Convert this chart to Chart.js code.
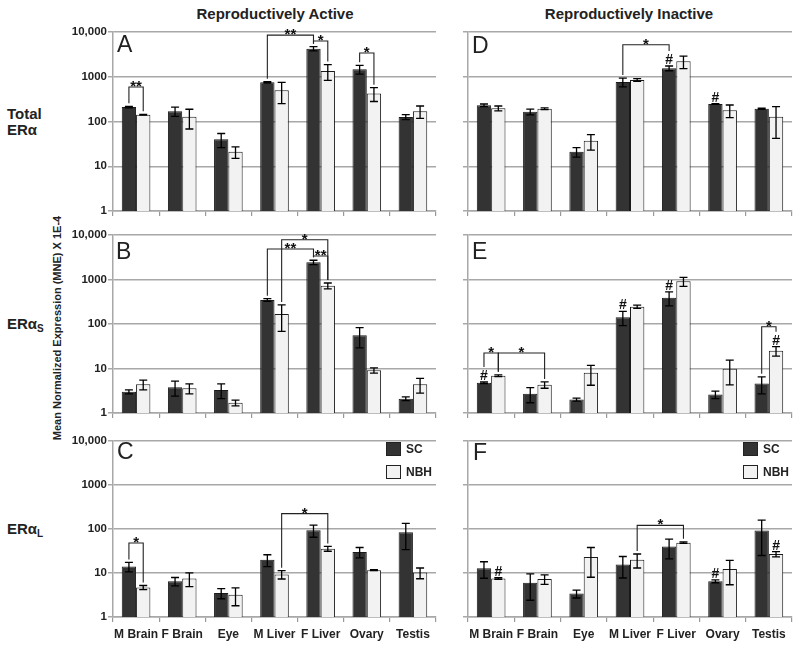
<!DOCTYPE html>
<html>
<head>
<meta charset="utf-8">
<script src="https://cdn.jsdelivr.net/npm/chart.js@4.4.0/dist/chart.umd.min.js"></script>
<style>
  body { margin: 0; background: #fff; }
  #wrap { position: relative; width: 800px; height: 647px; font-family: 'Liberation Sans', Arial, sans-serif; color: #222; }
  canvas { position: absolute; }
  .t { position: absolute; font-weight: bold; white-space: nowrap; }
  .col { font-size: 15px; line-height: 15px; transform: translateX(-50%); top: 6px; }
  .row { font-size: 15px; line-height: 16px; left: 7px; }
  .row sub { font-size: 10px; line-height: 0; vertical-align: -3px; }
  .letter { position: absolute; font-size: 23px; line-height: 23px; }
  .sw { position: absolute; width: 13px; height: 12px; border: 1px solid #222; }
  .lg { position: absolute; font-size: 12px; font-weight: bold; line-height: 12px; }
</style>
</head>
<body>
<div id="wrap">
  <div class="t col" style="left:275px">Reproductively Active</div>
  <div class="t col" style="left:629px">Reproductively Inactive</div>

  <div class="t row" style="top:106px">Total<br>ERα</div>
  <div class="t row" style="top:316px">ERα<sub>S</sub></div>
  <div class="t row" style="top:521px">ERα<sub>L</sub></div>

  <div class="t" style="left:57px;top:328px;font-size:11px;transform:translate(-50%,-50%) rotate(-90deg)">Mean Normalized Expression (MNE) X 1E-4</div>

  <canvas id="chartA" width="380" height="197" style="left:60px;top:22px"></canvas>
  <canvas id="chartD" width="342" height="197" style="left:458px;top:22px"></canvas>
  <canvas id="chartB" width="380" height="196" style="left:60px;top:225px"></canvas>
  <canvas id="chartE" width="342" height="196" style="left:458px;top:225px"></canvas>
  <canvas id="chartC" width="380" height="214" style="left:60px;top:431px"></canvas>
  <canvas id="chartF" width="342" height="214" style="left:458px;top:431px"></canvas>

  <div class="letter" style="left:117px;top:33px">A</div>
  <div class="letter" style="left:472px;top:34px">D</div>
  <div class="letter" style="left:116px;top:240px">B</div>
  <div class="letter" style="left:472px;top:240px">E</div>
  <div class="letter" style="left:117px;top:440px">C</div>
  <div class="letter" style="left:473px;top:441px">F</div>

  <div class="sw" style="left:386px;top:442px;background:#333"></div>
  <div class="lg" style="left:406px;top:443px">SC</div>
  <div class="sw" style="left:386px;top:465px;background:#f2f2f2"></div>
  <div class="lg" style="left:406px;top:466px">NBH</div>
  <div class="sw" style="left:743px;top:442px;background:#333"></div>
  <div class="lg" style="left:763px;top:443px">SC</div>
  <div class="sw" style="left:743px;top:465px;background:#f2f2f2"></div>
  <div class="lg" style="left:763px;top:466px">NBH</div>
</div>

<script>
// tissues on the x axis, decades on the log y axis
const categories = ['M Brain', 'F Brain', 'Eye', 'M Liver', 'F Liver', 'Ovary', 'Testis'];
const tickValues = [1, 10, 100, 1000, 10000];

// Total ERα — reproductively active (A) / inactive (D)
const activeTotalSC     = [210, 170, 40, 750, 4250, 1470, 126];
const activeTotalSCErr  = [8, 40, 14, 25, 450, 330, 16];
const activeTotalNBH    = [142, 128, 21, 500, 1350, 425, 170];
const activeTotalNBHErr = [3, 60, 6, 250, 520, 145, 52];

const inactiveTotalSC     = [230, 165, 21, 763, 1550, 246, 193];
const inactiveTotalSCErr  = [16, 25, 5, 170, 190, 5, 5];
const inactiveTotalNBH    = [197, 193, 37, 845, 2210, 178, 128];
const inactiveTotalNBHErr = [25, 8, 14, 60, 690, 56, 86];

// ERαS — active (B) / inactive (E)
const activeShortSC     = [3.0, 3.8, 3.3, 347, 2440, 56, 2.1];
const activeShortSCErr  = [0.3, 1.4, 1.2, 23, 270, 27, 0.2];
const activeShortNBH    = [4.4, 3.6, 1.7, 168, 725, 9.1, 4.4];
const activeShortNBHErr = [1.1, 0.9, 0.25, 100, 110, 1.2, 1.6];

const inactiveShortSC     = [4.8, 2.7, 2.0, 142, 390, 2.6, 4.6];
const inactiveShortSCErr  = [0.2, 1.0, 0.15, 50, 135, 0.5, 1.9];
const inactiveShortNBH    = [6.9, 4.3, 8.0, 245, 910, 9.9, 25];
const inactiveShortNBHErr = [0.3, 0.7, 3.8, 20, 210, 5.6, 6];

// ERαL — active (C) / inactive (F)
const activeLongSC     = [14, 6.5, 3.5, 20, 94, 30, 84];
const activeLongSCErr  = [3.4, 1.4, 0.9, 6, 29, 8, 50];
const activeLongNBH    = [4.7, 7.5, 3.2, 9.3, 35.7, 11.6, 10.2];
const activeLongNBHErr = [0.5, 2.6, 1.4, 2, 4.5, 0.3, 2.8];

const inactiveLongSC     = [12.8, 6.0, 3.4, 15.7, 40, 6.5, 92];
const inactiveLongSCErr  = [5.2, 3.6, 0.7, 8, 19, 0.5, 67];
const inactiveLongNBH    = [7.5, 7.3, 23, 20, 49, 12.4, 27];
const inactiveLongNBHErr = [0.3, 1.8, 15, 7, 2, 7, 3.7];

// significance brackets: [category, dataset(0=SC,1=NBH)] -> [category, dataset], bracket height in data units
const bracketsA = [
  { a: [0, 0], b: [0, 1], y: 590, t: '**' },
  { a: [3, 0], b: [4, 0], y: 8500, t: '**' },
  { a: [4, 0], b: [4, 1], y: 6300, t: '*' },
  { a: [5, 0], b: [5, 1], y: 3400, t: '*' }
];
const bracketsD = [{ a: [3, 0], b: [4, 0], y: 5200, t: '*' }];
const bracketsB = [
  { a: [3, 0], b: [4, 0], y: 4840, t: '**' },
  { a: [3, 1], b: [4, 1], y: 7840, t: '*' },
  { a: [4, 0], b: [4, 1], y: 3380, t: '**' }
];
const bracketsE = [
  { a: [0, 0], b: [0, 1], y: 22.3, t: '*' },
  { a: [0, 1], b: [1, 1], y: 22.3, t: '*' },
  { a: [6, 0], b: [6, 1], y: 87, t: '*' }
];
const bracketsC = [
  { a: [0, 0], b: [0, 1], y: 48, t: '*' },
  { a: [3, 1], b: [4, 1], y: 224, t: '*' }
];
const bracketsF = [{ a: [3, 1], b: [4, 1], y: 121, t: '*' }];

// '#' marks (difference vs. active state)
const hashesD = [[4, 0], [5, 0]];
const hashesE = [[0, 0], [3, 0], [4, 0], [6, 1]];
const hashesF = [[0, 1], [5, 0], [6, 1]];

const SC_FILL = '#333333';
const NBH_FILL = '#f2f2f2';
const EDGE = '#1a1a1a';
const GRID = '#a8a8a8';
const FONT = "'Liberation Sans', Arial, sans-serif";

// error bars, brackets and '#' marks, all placed through the chart's scales
const marks = {
  id: 'marks',
  afterDatasetsDraw(chart, args, opts) {
    const { ctx } = chart;
    const y = chart.scales.y;
    const sets = chart.data.datasets;
    const bars = sets.map((_, d) => chart.getDatasetMeta(d).data);
    const hashes = opts.hashes || [];
    const hasHash = (i, d) => hashes.some(h => h[0] === i && h[1] === d);
    const errTop = (i, d) => y.getPixelForValue(sets[d].data[i] + sets[d].errors[i]);

    ctx.save();
    ctx.strokeStyle = '#000';
    ctx.lineWidth = 1.3;
    sets.forEach((ds, d) => {
      bars[d].forEach((bar, i) => {
        const v = ds.data[i], e = ds.errors[i];
        const top = y.getPixelForValue(v + e);
        const bot = y.getPixelForValue(Math.max(v - e, 1));
        ctx.beginPath();
        ctx.moveTo(bar.x, top); ctx.lineTo(bar.x, bot);
        ctx.moveTo(bar.x - 4, top); ctx.lineTo(bar.x + 4, top);
        ctx.moveTo(bar.x - 4, bot); ctx.lineTo(bar.x + 4, bot);
        ctx.stroke();
      });
    });

    ctx.fillStyle = '#111';
    ctx.textAlign = 'center';
    ctx.textBaseline = 'alphabetic';
    ctx.font = `bold 14px ${FONT}`;
    hashes.forEach(([i, d]) => {
      ctx.fillText('#', bars[d][i].x, errTop(i, d) - 2);
    });

    ctx.lineWidth = 1.1;
    ctx.strokeStyle = '#222';
    const legEnd = (i, d) => errTop(i, d) - (hasHash(i, d) ? 15 : 3);
    (opts.brackets || []).forEach(b => {
      const xa = bars[b.a[1]][b.a[0]].x;
      const xb = bars[b.b[1]][b.b[0]].x;
      const yy = y.getPixelForValue(b.y);
      ctx.beginPath();
      ctx.moveTo(xa, legEnd(b.a[0], b.a[1]));
      ctx.lineTo(xa, yy);
      ctx.lineTo(xb, yy);
      ctx.lineTo(xb, legEnd(b.b[0], b.b[1]));
      ctx.stroke();
      ctx.font = `bold 15px ${FONT}`;
      ctx.fillText(b.t, (xa + xb) / 2, yy + 4);
    });
    ctx.restore();
  }
};

function panel(id, sc, scErr, nbh, nbhErr, cfg) {
  const left = cfg.left;
  return new Chart(document.getElementById(id), {
    type: 'bar',
    data: {
      labels: categories,
      datasets: [
        { label: 'SC', data: sc, errors: scErr, backgroundColor: SC_FILL, borderColor: EDGE, borderWidth: 1 },
        { label: 'NBH', data: nbh, errors: nbhErr, backgroundColor: NBH_FILL, borderColor: EDGE, borderWidth: 1 }
      ]
    },
    options: {
      responsive: false,
      animation: false,
      events: [],
      layout: { padding: { top: 10, right: left ? 4 : 8, bottom: 0, left: 0 } },
      datasets: { bar: { categoryPercentage: 0.62, barPercentage: 1 } },
      plugins: {
        legend: { display: false },
        tooltip: { enabled: false },
        marks: { brackets: cfg.brackets, hashes: cfg.hashes }
      },
      scales: {
        x: {
          offset: true,
          afterFit: s => { s.height = cfg.bottom ? 28 : 8; },
          grid: { display: true, drawOnChartArea: false, offset: true, tickLength: 5, color: '#999', lineWidth: 1.2 },
          border: { display: true, color: GRID, width: 1.5 },
          ticks: {
            display: !!cfg.bottom, autoSkip: false, maxRotation: 0, padding: 5,
            color: '#222', font: { family: FONT, size: 12, weight: 'bold' }
          }
        },
        y: {
          type: 'logarithmic',
          min: 1,
          max: 10000,
          afterBuildTicks: s => { s.ticks = tickValues.map(v => ({ value: v })); },
          afterFit: s => { s.width = left ? 53 : 10; },
          grid: { color: GRID, lineWidth: 1.5, tickLength: 5 },
          border: { color: GRID, width: 1.5 },
          ticks: {
            display: left, padding: 1, color: '#222',
            font: { family: FONT, size: 11.5, weight: 'bold' },
            callback: v => v === 10000 ? '10,000' : String(v)
          }
        }
      }
    },
    plugins: [marks]
  });
}

panel('chartA', activeTotalSC, activeTotalSCErr, activeTotalNBH, activeTotalNBHErr, { left: true, brackets: bracketsA });
panel('chartD', inactiveTotalSC, inactiveTotalSCErr, inactiveTotalNBH, inactiveTotalNBHErr, { left: false, brackets: bracketsD, hashes: hashesD });
panel('chartB', activeShortSC, activeShortSCErr, activeShortNBH, activeShortNBHErr, { left: true, brackets: bracketsB });
panel('chartE', inactiveShortSC, inactiveShortSCErr, inactiveShortNBH, inactiveShortNBHErr, { left: false, brackets: bracketsE, hashes: hashesE });
panel('chartC', activeLongSC, activeLongSCErr, activeLongNBH, activeLongNBHErr, { left: true, bottom: true, brackets: bracketsC });
panel('chartF', inactiveLongSC, inactiveLongSCErr, inactiveLongNBH, inactiveLongNBHErr, { left: false, bottom: true, brackets: bracketsF, hashes: hashesF });
</script>
</body>
</html>
